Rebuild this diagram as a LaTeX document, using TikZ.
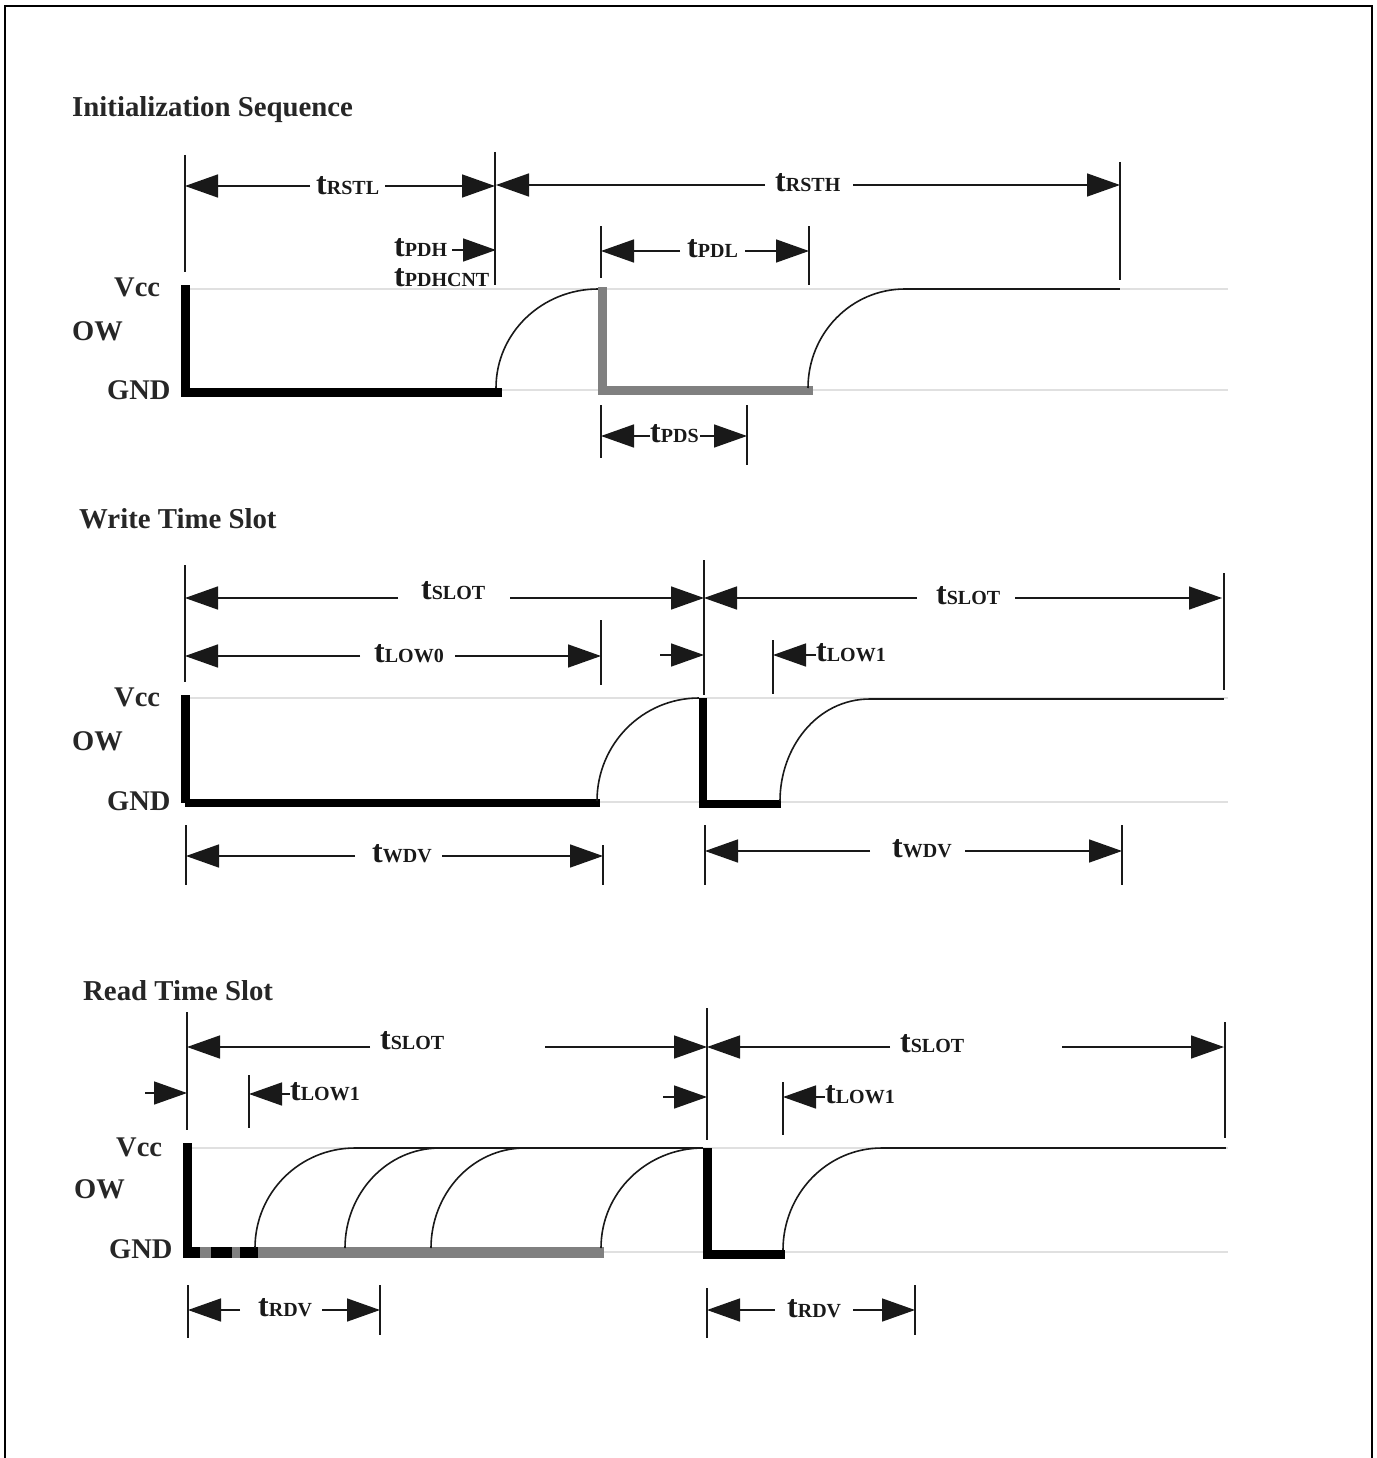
\documentclass[tikz,border=0pt]{standalone}
\usepackage{fontspec}
\setmainfont{Liberation Serif}
\usetikzlibrary{arrows.meta}
\definecolor{hair}{gray}{0.88}
\definecolor{midgrey}{gray}{0.5}
\tikzset{
  tickline/.style={line width=1.5pt,draw=black!90},
  dimline/.style={line width=1.5pt,draw=black!90,-{Triangle[length=33pt,width=23pt]}},
  rail/.style={line width=1.6pt,draw=hair},
  thinsig/.style={line width=1.6pt,draw=black!90},
  heavy/.style={line width=9pt,draw=black},
  heavygrey/.style={line width=9pt,draw=midgrey},
  lab/.style={anchor=west,inner sep=0pt,font=\bfseries,text=black!90},
  sect/.style={anchor=west,inner sep=0pt,font=\bfseries\fontsize{28.8}{30}\selectfont,text=black!85},
  sig/.style={anchor=west,inner sep=0pt,font=\bfseries\fontsize{28.5}{30}\selectfont,text=black!85}
}
\newcommand\Tl[1]{{\fontsize{32}{32}\selectfont t}{\fontsize{20}{20}\selectfont #1}}
% two-sided dimension: id, xL, xLend, xRstart, xR, y, labelx, labely, label
\newcommand\DimBoth[9]{%
  \coordinate (#1-l) at (#2,#6);\coordinate (#1-le) at (#3,#6);
  \coordinate (#1-rs) at (#4,#6);\coordinate (#1-r) at (#5,#6);
  \node[lab] (#1-t) at (#7,#8) {\Tl{#9}};
  \draw[dimline] (#1-le) -- (#1-l);
  \draw[dimline] (#1-rs) -- (#1-r);}
% one arrow pointing right: id, xstart, xtip, y
\newcommand\ArrR[4]{%
  \coordinate (#1-s) at (#2,#4);\coordinate (#1-e) at (#3,#4);
  \draw[dimline] (#1-s) -- (#1-e);}
\newcommand\Tick[4]{%
  \coordinate (#1-a) at (#2,#3);\coordinate (#1-b) at (#2,#4);
  \draw[tickline] (#1-a) -- (#1-b);}
% rising edge: id, x1,y1, x2,y2
\newcommand\Rise[5]{%
  \coordinate (#1-a) at (#2,#3);\coordinate (#1-b) at (#4,#5);
  \draw[thinsig] (#1-a) to[out=90,in=180] (#1-b);}
\newcommand\Rails[3]{%
  \coordinate (#1-v0) at (185,#2);\coordinate (#1-v1) at (1228,#2);
  \coordinate (#1-g0) at (185,#3);\coordinate (#1-g1) at (1228,#3);
  \draw[rail] (#1-v0) -- (#1-v1);
  \draw[rail] (#1-g0) -- (#1-g1);}
\begin{document}
\begin{tikzpicture}[x=1pt,y=-1pt]
\useasboundingbox (0,0) rectangle (1376,1458);
\fill[white] (0,0) rectangle (1376,1458);
\coordinate (f1) at (5,1458);\coordinate (f2) at (5,6);\coordinate (f3) at (1372,6);\coordinate (f4) at (1372,1458);
\draw[line width=2.5pt] (f1) -- (f2) -- (f3) -- (f4);

% ===== Initialization =====
\node[sect] (title1) at (72,110) {Initialization Sequence};
\node[sig] (vcc1) at (114,287) {Vcc};
\node[sig] (ow1) at (72,331) {OW};
\node[sig] (gnd1) at (107,390) {GND};
\Rails{r1}{289}{390}
\Tick{a1}{185}{155}{272}
\Tick{a2}{495}{152}{285}
\Tick{a3}{601}{226}{278}
\Tick{a4}{809}{226}{285}
\Tick{a5}{1120}{162}{280}
\Tick{a6}{601}{405}{458}
\Tick{a7}{747}{405}{465}
\DimBoth{rstl}{185}{310}{385}{495}{186}{316}{186}{RSTL}
\DimBoth{rsth}{496}{765}{853}{1120}{185}{775}{183}{RSTH}
\DimBoth{pdl}{601}{680}{745}{809}{251}{687}{249}{PDL}
\DimBoth{pds}{601}{650}{700}{747}{436}{650}{434}{PDS}
\node[lab] (pdh) at (394,248) {\Tl{PDH}};
\ArrR{pdharr}{452}{496}{250}
\node[lab] (pdhcnt) at (394,278) {\Tl{PDHCNT}};
\coordinate (s1a) at (185,285);\coordinate (s1b) at (185,392);\coordinate (s1c) at (502,392);
\draw[heavy,line join=miter] (s1a) -- (s1b) -- (s1c);
\Rise{c1}{496}{388}{598}{289}
\coordinate (s2a) at (602,287);\coordinate (s2b) at (602,390);\coordinate (s2c) at (813,390);
\draw[heavygrey,line join=miter] (s2a) -- (s2b) -- (s2c);
\Rise{c2}{808}{388}{905}{289}
\coordinate (s3b) at (1120,289);
\draw[thinsig] (c2-b) -- (s3b);

% ===== Write =====
\node[sect] (title2) at (79,519) {Write Time Slot};
\node[sig] (vcc2) at (114,697) {Vcc};
\node[sig] (ow2) at (72,741) {OW};
\node[sig] (gnd2) at (107,801) {GND};
\Rails{r2}{698}{802}
\Tick{b1}{185}{565}{682}
\Tick{b2}{704}{560}{695}
\Tick{b3}{601}{620}{685}
\Tick{b4}{773}{640}{694}
\Tick{b5}{1224}{573}{690}
\DimBoth{slot1}{185}{398}{510}{704}{598}{421}{591}{SLOT}
\DimBoth{slot2}{704}{917}{1015}{1222}{598}{936}{596}{SLOT}
\DimBoth{low0}{185}{360}{455}{601}{656}{374}{654}{LOW0}
\ArrR{w1}{660}{704}{655}
\coordinate (low1a-l) at (773,655);\coordinate (low1a-e) at (816,655);
\node[lab] (low1a) at (816,653) {\Tl{LOW1}};
\draw[dimline] (low1a-e) -- (low1a-l);
\coordinate (w2a) at (185,695);\coordinate (w2b) at (185,803);\coordinate (w2c) at (600,803);
\draw[heavy,line join=miter] (w2a) -- (w2b);
\draw[line width=7.5pt] (w2b) -- (w2c);
\Rise{c3}{597}{801}{699}{698}
\coordinate (w3a) at (703,698);\coordinate (w3b) at (703,804);\coordinate (w3c) at (781,804);
\draw[line width=8pt,line join=miter] (w3a) -- (w3b) -- (w3c);
\Rise{c4}{780}{801}{870}{699}
\coordinate (w4) at (1224,699);
\draw[thinsig] (c4-b) -- (w4);
\Tick{b6}{186}{825}{885}
\Tick{b7}{603}{845}{885}
\Tick{b8}{705}{825}{885}
\Tick{b9}{1122}{825}{885}
\DimBoth{wdv1}{186}{355}{442}{603}{856}{372}{854}{WDV}
\DimBoth{wdv2}{705}{870}{965}{1122}{851}{892}{849}{WDV}

% ===== Read =====
\node[sect] (title3) at (83,991) {Read Time Slot};
\node[sig] (vcc3) at (116,1147) {Vcc};
\node[sig] (ow3) at (74,1189) {OW};
\node[sig] (gnd3) at (109,1249) {GND};
\Rails{r3}{1148}{1252}
\Tick{d1}{187}{1012}{1130}
\Tick{d2}{707}{1008}{1140}
\Tick{d3}{1225}{1022}{1138}
\Tick{d4}{249}{1075}{1128}
\Tick{d5}{783}{1082}{1135}
\DimBoth{slot3}{187}{370}{545}{707}{1047}{380}{1041}{SLOT}
\DimBoth{slot4}{707}{890}{1062}{1224}{1047}{900}{1044}{SLOT}
\ArrR{r1a}{145}{187}{1093}
\coordinate (low1b-l) at (249,1094);\coordinate (low1b-e) at (290,1094);
\node[lab] (low1b) at (290,1092) {\Tl{LOW1}};
\draw[dimline] (low1b-e) -- (low1b-l);
\ArrR{r2a}{663}{707}{1097}
\coordinate (low1c-l) at (783,1097);\coordinate (low1c-e) at (825,1097);
\node[lab] (low1c) at (825,1095) {\Tl{LOW1}};
\draw[dimline] (low1c-e) -- (low1c-l);
\coordinate (g1) at (187,1252);\coordinate (g2) at (604,1252);
\draw[line width=11pt,draw=midgrey] (g1) -- (g2);
\coordinate (k1) at (183,1252);\coordinate (k2) at (200,1252);\coordinate (k3) at (211,1252);\coordinate (k4) at (232,1252);\coordinate (k5) at (240,1252);\coordinate (k6) at (258,1252);
\draw[line width=11pt] (k1) -- (k2);
\draw[line width=11pt] (k3) -- (k4);
\draw[line width=11pt] (k5) -- (k6);
\coordinate (v1) at (187,1143);\coordinate (v2) at (187,1258);
\draw[heavy] (v1) -- (v2);
\Rise{e1}{255}{1248}{355}{1148}
\Rise{e2}{345}{1248}{440}{1148}
\Rise{e3}{431}{1248}{525}{1148}
\Rise{e4}{601}{1248}{703}{1148}
\draw[thinsig] (e1-b) -- (e4-b);
\coordinate (m1) at (707,1148);\coordinate (m2) at (707,1254);\coordinate (m3) at (785,1254);
\draw[line width=9pt,line join=miter] (m1) -- (m2) -- (m3);
\Rise{e5}{783}{1250}{882}{1148}
\coordinate (m4) at (1226,1148);
\draw[thinsig] (e5-b) -- (m4);
\Tick{d6}{188}{1285}{1338}
\Tick{d7}{380}{1285}{1335}
\Tick{d8}{707}{1288}{1338}
\Tick{d9}{915}{1285}{1335}
\DimBoth{rdv1}{188}{240}{322}{380}{1310}{258}{1308}{RDV}
\DimBoth{rdv2}{707}{775}{853}{915}{1310}{787}{1309}{RDV}
\end{tikzpicture}
\end{document}
